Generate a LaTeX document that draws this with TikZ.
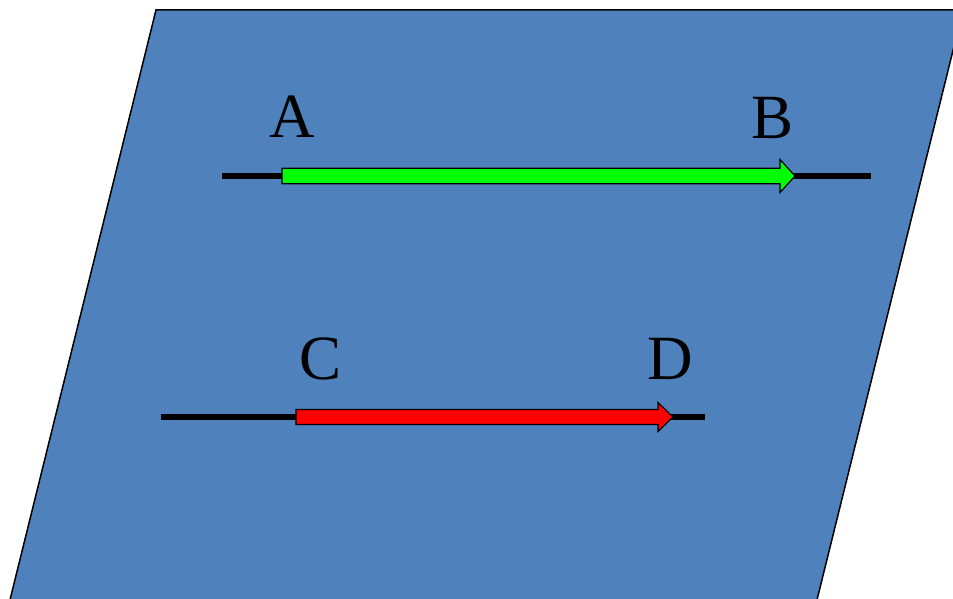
\documentclass[tikz,border=0pt]{standalone}
\usepackage{fontspec}
\setmainfont{Liberation Serif}
\usetikzlibrary{calc}

\definecolor{planeblue}{HTML}{4F81BD}

\tikzset{
    plane/.style={fill=planeblue, draw=black, line width=1.5pt},
    axisline/.style={draw=black, line width=6.5pt},
    vecgreen/.style={fill=green, draw=black, line width=1.2pt, line join=miter},
    vecred/.style={fill=red, draw=black, line width=1.2pt, line join=miter},
    ptlabel/.style={font=\fontsize{63}{63}\selectfont, inner sep=0pt},
}

% fat arrow: #1 style, #2 tail, #3 tip, #4 half shaft, #5 half head
\newcommand\fatarrow[5]{%
    \path[#1] ($(#2)+(0,-#4)$) -- ($(#3)+(-15,-#4)$) -- ($(#3)+(-15,-#5)$)
        -- (#3) -- ($(#3)+(-15,#5)$) -- ($(#3)+(-15,#4)$) -- ($(#2)+(0,#4)$) -- cycle;}

\begin{document}
\begin{tikzpicture}[x=1pt, y=-1pt]
    \clip (0,0) rectangle (953,599);

    % the plane
    \path[plane] (156,10) -- (963,10) -- (812,620) -- (5,620) -- cycle;

    % first line with vector AB
    \coordinate (ab-l) at (222,176);
    \coordinate (ab-r) at (871,176);
    \coordinate (a-tail) at (282,176);
    \coordinate (b-tip) at (795,176);
    \draw[axisline] (ab-l) -- (ab-r);
    \fatarrow{vecgreen}{a-tail}{b-tip}{7.8}{16.5}
    \node[ptlabel] (lblA) at (292,117) {A};
    \node[ptlabel] (lblB) at (773,118) {B};

    % second line with vector CD
    \coordinate (cd-l) at (161,417);
    \coordinate (cd-r) at (705,417);
    \coordinate (c-tail) at (296,417);
    \coordinate (d-tip) at (673,417);
    \draw[axisline] (cd-l) -- (cd-r);
    \fatarrow{vecred}{c-tail}{d-tip}{7.5}{14.5}
    \node[ptlabel] (lblC) at (321,359) {C};
    \node[ptlabel] (lblD) at (670,359) {D};
\end{tikzpicture}
\end{document}
